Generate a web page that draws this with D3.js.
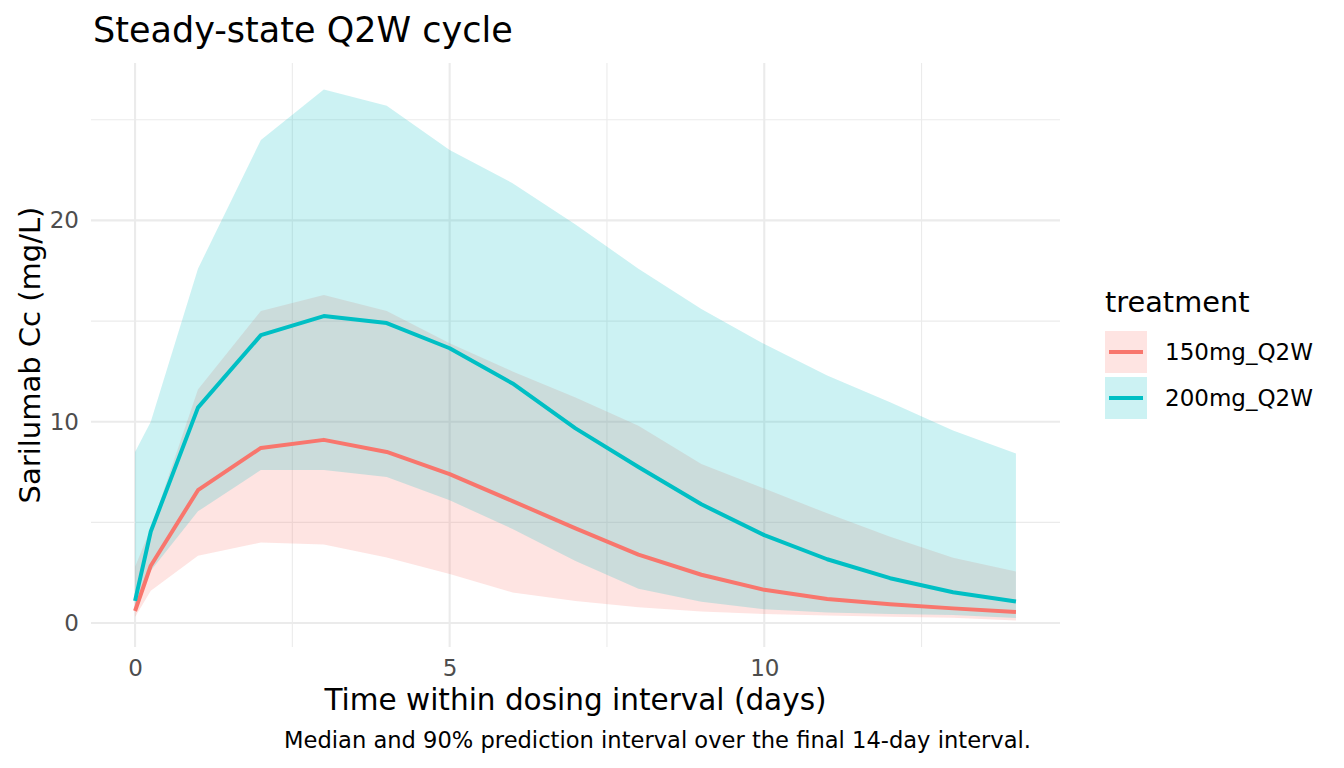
<!DOCTYPE html>
<html>
<head>
<meta charset="utf-8">
<script src="https://cdn.jsdelivr.net/npm/d3@7"></script>
<style>
  body { margin: 0; background: #fff; }
  text { font-family: "DejaVu Sans", sans-serif; }
</style>
</head>
<body>
<script>
var svgWidth = 1344;
var svgHeight = 768;

// data
var treatments = ["150mg_Q2W", "200mg_Q2W"];
var colors = ["#F8766D", "#00BFC4"];
var time = [0, 0.25, 1, 2, 3, 4, 5, 6, 7, 8, 9, 10, 11, 12, 13, 14];

var med150 = [0.6, 2.85, 6.6, 8.7, 9.1, 8.5, 7.4, 6.06, 4.7, 3.4, 2.4, 1.65, 1.2, 0.94, 0.73, 0.55];
var lo150  = [0.3, 1.6, 3.35, 4.0, 3.9, 3.26, 2.44, 1.52, 1.1, 0.79, 0.57, 0.45, 0.37, 0.31, 0.27, 0.13];
var hi150  = [2.8, 4.7, 11.6, 15.5, 16.3, 15.5, 13.9, 12.5, 11.2, 9.8, 7.9, 6.68, 5.45, 4.29, 3.25, 2.56];

var med200 = [1.1, 4.55, 10.7, 14.3, 15.25, 14.9, 13.65, 11.9, 9.67, 7.75, 5.9, 4.37, 3.17, 2.23, 1.53, 1.07];
var lo200  = [0.8, 2.6, 5.55, 7.6, 7.6, 7.25, 6.1, 4.67, 3.08, 1.7, 1.06, 0.69, 0.53, 0.45, 0.4, 0.25];
var hi200  = [8.5, 10.0, 17.6, 24.0, 26.5, 25.7, 23.5, 21.85, 19.8, 17.6, 15.6, 13.86, 12.3, 10.97, 9.57, 8.42];

var xMajor = [0, 5, 10];
var xMinor = [2.5, 7.5, 12.5];
var yMajor = [0, 10, 20];
var yMinor = [5, 15, 25];

var panel = { left: 91, right: 1060, top: 63, bottom: 647 };

var series = [
  { name: treatments[0], color: colors[0], med: med150, lo: lo150, hi: hi150 },
  { name: treatments[1], color: colors[1], med: med200, lo: lo200, hi: hi200 }
];

var svg = d3.select("body").append("svg").attr("width", svgWidth).attr("height", svgHeight);

// ggplot style 5% expansion
var allVals = lo150.concat(hi150, lo200, hi200);
var yMin = d3.min(allVals), yMax = d3.max(allVals);
var yPad = (yMax - yMin) * 0.05;
var xPad = (d3.max(time) - d3.min(time)) * 0.05;

var x = d3.scaleLinear()
  .domain([d3.min(time) - xPad, d3.max(time) + xPad])
  .range([panel.left, panel.right]);
var y = d3.scaleLinear()
  .domain([yMin - yPad, yMax + yPad])
  .range([panel.bottom, panel.top]);

// grid
var grid = svg.append("g");
grid.selectAll(".xminor").data(xMinor).join("line")
  .attr("x1", function(d) { return x(d); }).attr("x2", function(d) { return x(d); })
  .attr("y1", panel.top).attr("y2", panel.bottom)
  .attr("stroke", "#EBEBEB").attr("stroke-width", 1.1);
grid.selectAll(".yminor").data(yMinor).join("line")
  .attr("y1", function(d) { return y(d); }).attr("y2", function(d) { return y(d); })
  .attr("x1", panel.left).attr("x2", panel.right)
  .attr("stroke", "#EBEBEB").attr("stroke-width", 1.1);
grid.selectAll(".xmajor").data(xMajor).join("line")
  .attr("x1", function(d) { return x(d); }).attr("x2", function(d) { return x(d); })
  .attr("y1", panel.top).attr("y2", panel.bottom)
  .attr("stroke", "#EBEBEB").attr("stroke-width", 2.1);
grid.selectAll(".ymajor").data(yMajor).join("line")
  .attr("y1", function(d) { return y(d); }).attr("y2", function(d) { return y(d); })
  .attr("x1", panel.left).attr("x2", panel.right)
  .attr("stroke", "#EBEBEB").attr("stroke-width", 2.1);

// ribbons
var area = d3.area()
  .x(function(d, i) { return x(time[i]); })
  .y0(function(d) { return y(d[0]); })
  .y1(function(d) { return y(d[1]); });

series.forEach(function(s) {
  var pts = s.lo.map(function(v, i) { return [v, s.hi[i]]; });
  svg.append("path")
    .datum(pts)
    .attr("d", area)
    .attr("fill", s.color)
    .attr("fill-opacity", 0.2);
});

// median lines
var line = d3.line()
  .x(function(d, i) { return x(time[i]); })
  .y(function(d) { return y(d); });

series.forEach(function(s) {
  svg.append("path")
    .datum(s.med)
    .attr("d", line)
    .attr("fill", "none")
    .attr("stroke", s.color)
    .attr("stroke-width", 4)
    .attr("stroke-linejoin", "round");
});

// axes (labels only, like theme_minimal)
var xAxis = svg.append("g")
  .attr("transform", "translate(0," + (panel.bottom + 5) + ")")
  .call(d3.axisBottom(x).tickValues(xMajor).tickSize(0).tickPadding(8));
var yAxis = svg.append("g")
  .attr("transform", "translate(" + (panel.left - 4) + ",0)")
  .call(d3.axisLeft(y).tickValues(yMajor).tickSize(0).tickPadding(8));
[xAxis, yAxis].forEach(function(a) {
  a.select(".domain").remove();
  a.selectAll("text")
    .attr("font-family", "DejaVu Sans")
    .attr("font-size", 23)
    .attr("fill", "#4D4D4D");
});

// titles
svg.append("text")
  .attr("x", 93).attr("y", 42)
  .attr("font-size", 35)
  .attr("fill", "#000")
  .text("Steady-state Q2W cycle");

svg.append("text")
  .attr("x", (panel.left + panel.right) / 2).attr("y", 710)
  .attr("text-anchor", "middle")
  .attr("font-size", 29.5)
  .text("Time within dosing interval (days)");

svg.append("text")
  .attr("transform", "translate(40," + ((panel.top + panel.bottom) / 2) + ") rotate(-90)")
  .attr("text-anchor", "middle")
  .attr("font-size", 29)
  .text("Sarilumab Cc (mg/L)");

svg.append("text")
  .attr("x", 1031).attr("y", 748)
  .attr("text-anchor", "end")
  .attr("font-size", 22.6)
  .text("Median and 90% prediction interval over the final 14-day interval.");

// legend
var legend = svg.append("g").attr("transform", "translate(1105,0)");
legend.append("text")
  .attr("x", 0).attr("y", 312)
  .attr("font-size", 28.8)
  .text("treatment");

var keys = legend.selectAll(".key").data(series).join("g")
  .attr("transform", function(d, i) { return "translate(0," + (331 + i * 46) + ")"; });
keys.append("rect")
  .attr("width", 42).attr("height", 42)
  .attr("fill", function(d) { return d.color; })
  .attr("fill-opacity", 0.2);
keys.append("line")
  .attr("x1", 4).attr("x2", 38)
  .attr("y1", 21).attr("y2", 21)
  .attr("stroke", function(d) { return d.color; })
  .attr("stroke-width", 4);
keys.append("text")
  .attr("x", 60).attr("y", 21)
  .attr("dy", "0.35em")
  .attr("font-size", 23)
  .text(function(d) { return d.name; });
</script>
</body>
</html>
